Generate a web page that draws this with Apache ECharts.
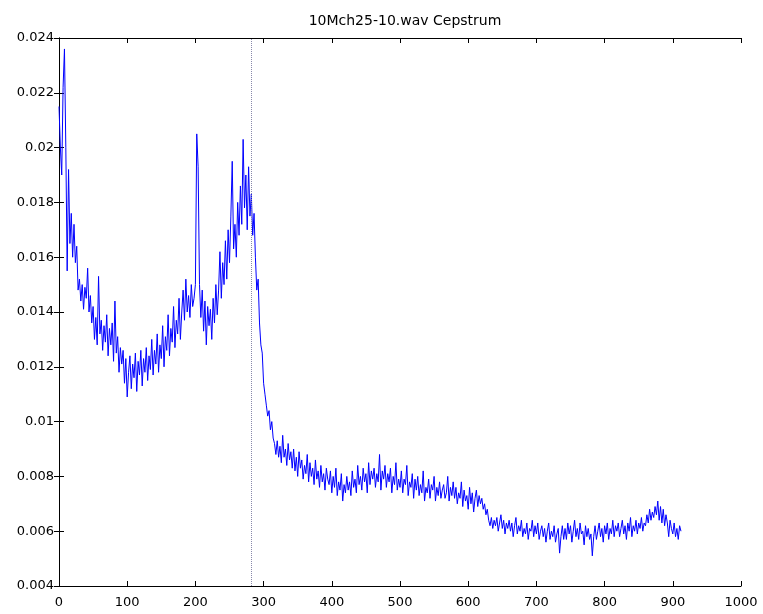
<!DOCTYPE html>
<html>
<head>
<meta charset="utf-8">
<script src="https://cdn.jsdelivr.net/npm/echarts@6/dist/echarts.min.js"></script>
<style>
html,body{margin:0;padding:0;background:#fff;}
#chart{width:763px;height:614px;}
</style>
</head>
<body>
<div id="chart"></div>
<script>
var titleText = "10Mch25-10.wav Cepstrum";
var sampleStep = 2;
var markerX = 282;
var xTicks = [0,100,200,300,400,500,600,700,800,900,1000];
var yTicks = [0.004,0.006,0.008,0.01,0.012,0.014,0.016,0.018,0.02,0.022,0.024];
var cepstrum = [
// 0-60
.0215,.0200,.0190,.0222,.0236,.0200,.0155,.0192,.0165,.0176,.0160,.0172,.0158,.0164,.0148,.0152,.0144,.0150,.0141,.0149,.0145,.0156,.0140,.0146,.0136,.0142,.0130,.0138,.0128,.0153,.0132,
// 62-100
.0137,.0126,.0135,.0129,.0139,.0124,.0134,.0128,.0136,.0122,.0144,.0125,.0131,.0118,.0127,.0121,.0126,.0114,.0123,.0109,
// 102-140
.0118,.0124,.0112,.0121,.0116,.0125,.0111,.0122,.0117,.0126,.0113,.0123,.0118,.0127,.0115,.0124,.0119,.0130,.0117,.0126,
// 142-180
.0121,.0132,.0118,.0128,.0123,.0135,.0120,.0131,.0126,.0139,.0124,.0134,.0129,.0142,.0127,.0137,.0132,.0145,.0130,.0140,
// 182-200
.0148,.0137,.0152,.0140,.0146,.0138,.0150,.0142,.0145,.0150,
// 202-220
.0205,.0193,.0150,.0138,.0148,.0133,.0144,.0128,.0142,.0135,
// 222-284
.0141,.0130,.0145,.0136,.0150,.0139,.0148,.0162,.0145,.0158,.0150,.0166,.0152,.0170,.0158,.0175,.0195,.0163,.0172,.0160,.0180,.0168,.0186,.0172,.0203,.0178,.0190,.0170,.0193,.0175,.0183,.0168,
// 286-340
.0176,.0160,.0148,.0152,.0136,.0128,.0125,.0114,.0110,.0106,.0102,.0104,.0097,.0100,.0094,.0092,.0088,.0093,.0087,.0091,.0085,.0095,.0087,.0090,.0084,.0092,.0086,.0089,
// 342-380
.0083,.0090,.0082,.0087,.0080,.0089,.0083,.0086,.0079,.0084,.0081,.0088,.0078,.0085,.0080,.0083,.0077,.0086,.0079,.0082,
// 382-420
.0076,.0084,.0078,.0081,.0075,.0083,.0079,.0077,.0082,.0074,.0080,.0076,.0083,.0073,.0078,.0075,.0081,.0071,.0077,.0074,
// 422-460
.0080,.0075,.0078,.0073,.0082,.0076,.0079,.0074,.0084,.0077,.0080,.0075,.0083,.0078,.0081,.0074,.0085,.0077,.0082,.0079,
// 462-500
.0083,.0076,.0081,.0078,.0088,.0075,.0082,.0079,.0084,.0076,.0081,.0078,.0083,.0074,.0080,.0077,.0085,.0075,.0079,.0076,
// 502-540
.0082,.0074,.0079,.0077,.0084,.0073,.0078,.0076,.0081,.0072,.0079,.0075,.0080,.0073,.0077,.0074,.0082,.0071,.0076,.0074,
// 542-580
.0079,.0072,.0077,.0075,.0080,.0071,.0076,.0073,.0078,.0072,.0075,.0077,.0072,.0074,.0080,.0071,.0076,.0073,.0078,.0072,
// 582-620
.0076,.0070,.0074,.0072,.0078,.0069,.0075,.0071,.0073,.0068,.0076,.0070,.0074,.0067,.0072,.0075,.0069,.0073,.0070,.0072,
// 622-660
.0068,.0070,.0066,.0068,.0064,.0062,.0065,.0061,.0064,.0062,.0065,.0060,.0063,.0066,.0061,.0064,.0059,.0063,.0061,.0064,
// 662-700
.0060,.0063,.0058,.0062,.0065,.0059,.0062,.0060,.0064,.0058,.0061,.0059,.0063,.0057,.0061,.0060,.0064,.0058,.0062,.0059,
// 702-740
.0063,.0057,.0060,.0062,.0058,.0061,.0056,.0060,.0063,.0057,.0060,.0058,.0062,.0056,.0059,.0061,.0052,.0058,.0062,.0057,
// 742-780
.0061,.0057,.0063,.0059,.0062,.0056,.0060,.0064,.0058,.0061,.0057,.0063,.0059,.0060,.0055,.0062,.0058,.0061,.0057,.0059,
// 782-820
.0051,.0058,.0062,.0057,.0060,.0063,.0058,.0061,.0056,.0062,.0059,.0063,.0057,.0061,.0059,.0064,.0058,.0062,.0060,.0063,
// 822-860
.0058,.0061,.0064,.0059,.0062,.0057,.0063,.0060,.0065,.0058,.0062,.0060,.0064,.0059,.0063,.0061,.0065,.0060,.0063,.0062,
// 862-900
.0066,.0063,.0068,.0064,.0067,.0065,.0069,.0066,.0071,.0064,.0069,.0063,.0068,.0062,.0066,.0063,.0058,.0064,.0061,.0059,
// 902-912
.0063,.0058,.0061,.0057,.0062,.0060
];

var seriesData = cepstrum.map(function(v, i){ return [i * sampleStep, v]; });

var chart = echarts.init(document.getElementById('chart'), null, {renderer:'canvas'});
var font = 'DejaVu Sans, Verdana, sans-serif';
var axisCol = '#000';
function yFmt(v){ return String(parseFloat(v.toFixed(3))); }
var commonX = {
  type:'value', min:0, max:1000, interval:100,
  axisLine:{show:true, lineStyle:{color:axisCol, width:1}},
  axisTick:{show:true, inside:true, length:5, lineStyle:{color:axisCol}},
  splitLine:{show:false}
};
var commonY = {
  type:'value', min:0.004, max:0.024, interval:0.002,
  axisLine:{show:true, lineStyle:{color:axisCol, width:1}},
  axisTick:{show:true, inside:true, length:5, lineStyle:{color:axisCol}},
  splitLine:{show:false}
};
chart.setOption({
  animation:false,
  backgroundColor:'#fff',
  title:{text:titleText, left:400, textAlign:'center', top:9,
    textStyle:{fontFamily:font, fontSize:14, fontWeight:'normal', color:'#000'}},
  grid:{left:59, right:22, top:38, bottom:28, containLabel:false},
  xAxis:[
    Object.assign({}, commonX, {position:'bottom',
      axisLabel:{show:true, margin:10, fontFamily:font, fontSize:13, color:'#000', formatter:function(v){return String(v);}}}),
    Object.assign({}, commonX, {position:'top', axisLabel:{show:false}})
  ],
  yAxis:[
    Object.assign({}, commonY, {position:'left',
      axisLabel:{show:true, margin:5, fontFamily:font, fontSize:13, color:'#000', formatter:yFmt}}),
    Object.assign({}, commonY, {position:'right', axisLabel:{show:false}})
  ],
  series:[{
    type:'line', xAxisIndex:0, yAxisIndex:0,
    data:seriesData, showSymbol:false, symbol:'none',
    lineStyle:{color:'#0000ff', width:1},
    markLine:{silent:true, symbol:['none','none'], label:{show:false},
      lineStyle:{type:'dotted', color:'#8888aa', width:1},
      data:[{xAxis:markerX}]}
  }]
});
</script>
</body>
</html>
